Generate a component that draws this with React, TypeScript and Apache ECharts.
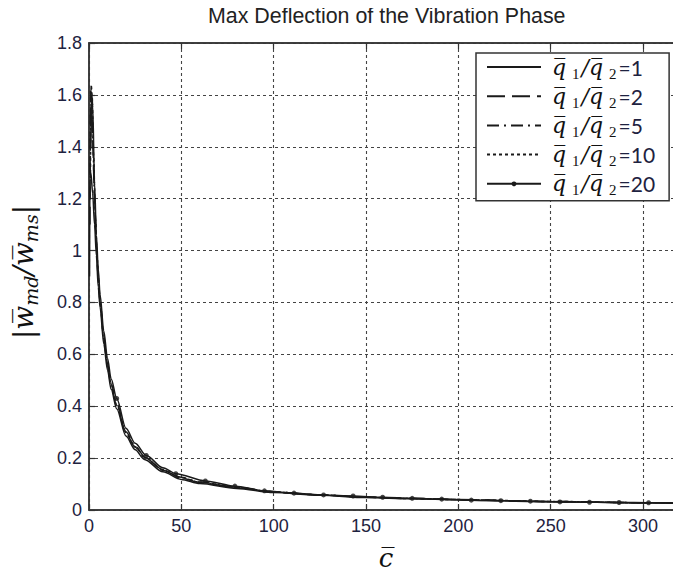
import React, { useEffect, useRef } from 'react';
import * as echarts from 'echarts';

const TITLE = 'Max Deflection of the Vibration Phase';
const RATIOS = ['1', '2', '5', '10', '20'];
const SERIES_NAMES = RATIOS.map((r) => `q1/q2=${r}`);

// q1/q2 = 1 (solid)
const cQ1 = [0.3, 0.5, 1, 2, 3, 4, 5, 6, 8, 10, 12, 15, 20, 25, 30, 40, 50, 60, 80, 100, 125, 150, 175, 200, 250, 300, 320];
const yQ1 = [0.9, 1.28, 1.3, 1.22, 1.1, 0.98, 0.86, 0.78, 0.64, 0.54, 0.465, 0.39, 0.285, 0.232, 0.195, 0.147, 0.118, 0.102, 0.083, 0.067, 0.057, 0.048, 0.043, 0.039, 0.032, 0.027, 0.026];
// q1/q2 = 2 (dashed)
const cQ2 = [0.5, 0.8, 1.2, 2, 3, 4, 5, 6, 8, 10, 12, 15, 20, 25, 30, 40, 50, 60, 80, 100, 125, 150, 175, 200, 250, 300, 320];
const yQ2 = [1.1, 1.55, 1.6, 1.42, 1.2, 1.02, 0.89, 0.8, 0.66, 0.555, 0.478, 0.402, 0.296, 0.242, 0.203, 0.153, 0.123, 0.106, 0.086, 0.069, 0.058, 0.049, 0.044, 0.04, 0.033, 0.028, 0.027];
// q1/q2 = 5 (dash-dot)
const cQ5 = [0.6, 1, 1.5, 2, 3, 4, 5, 6, 8, 10, 12, 15, 20, 25, 30, 40, 50, 60, 80, 100, 125, 150, 175, 200, 250, 300, 320];
const yQ5 = [1.2, 1.63, 1.58, 1.44, 1.21, 1.03, 0.9, 0.81, 0.67, 0.565, 0.487, 0.41, 0.302, 0.247, 0.207, 0.156, 0.126, 0.108, 0.088, 0.07, 0.059, 0.05, 0.045, 0.04, 0.033, 0.028, 0.027];
// q1/q2 = 10 (dotted)
const cQ10 = [0.8, 1.2, 1.7, 2.5, 3.5, 4.5, 5, 6, 8, 10, 12, 15, 20, 25, 30, 40, 50, 60, 80, 100, 125, 150, 175, 200, 250, 300, 320];
const yQ10 = [1.3, 1.64, 1.6, 1.36, 1.12, 0.97, 0.9, 0.8, 0.66, 0.56, 0.482, 0.405, 0.298, 0.244, 0.204, 0.154, 0.124, 0.107, 0.087, 0.069, 0.058, 0.049, 0.044, 0.04, 0.033, 0.028, 0.027];
// q1/q2 = 20 (solid with markers)
const cQ20 = [1, 1.5, 2, 3, 4, 5, 6, 8, 10, 12, 15, 20, 25, 31, 40, 47, 63, 79, 95, 111, 127, 143, 159, 175, 191, 207, 223, 239, 255, 271, 287, 303, 320];
const yQ20 = [1.4, 1.6, 1.56, 1.26, 1.06, 0.93, 0.83, 0.69, 0.585, 0.505, 0.43, 0.315, 0.257, 0.21, 0.163, 0.14, 0.112, 0.092, 0.074, 0.065, 0.058, 0.054, 0.049, 0.045, 0.042, 0.038, 0.036, 0.034, 0.031, 0.03, 0.029, 0.028, 0.027];
const cMarkQ20 = [15, 31, 47, 63, 79, 95, 111, 127, 143, 159, 175, 191, 207, 223, 239, 255, 271, 287, 303];
const yMarkQ20 = [0.43, 0.21, 0.14, 0.112, 0.092, 0.074, 0.065, 0.058, 0.054, 0.049, 0.045, 0.042, 0.038, 0.036, 0.034, 0.031, 0.03, 0.029, 0.028];

const X_MIN = 0;
const X_MAX = 320;
const X_STEP = 50;
const Y_MIN = 0;
const Y_MAX = 1.8;
const Y_STEP = 0.2;

const SERIES_X = [cQ1, cQ2, cQ5, cQ10, cQ20];
const SERIES_Y = [yQ1, yQ2, yQ5, yQ10, yQ20];
const DASHES: any[] = ['solid', [18, 7], [12, 5, 2, 5], [3, 3], 'solid'];

const INK = '#1a1a1a';
const LABEL = '#1e2240';

export default function App() {
  const ref = useRef<HTMLDivElement>(null);
  useEffect(() => {
    if (!ref.current) return;
    const chart = echarts.init(ref.current, undefined, { renderer: 'svg' });
    const axisLineStyle = { color: '#333', width: 1.5 };
    const tick = { show: true, inside: true, length: 6, lineStyle: { color: '#333', width: 1.2 } };
    const split = { show: true, lineStyle: { color: '#444', width: 1.1, type: [3, 3] as any } };
    const tickLabel = { fontSize: 18, fontFamily: 'Liberation Sans', color: LABEL };

    const lineSeries = SERIES_NAMES.map((name, i) => ({
      name,
      type: 'line',
      xAxisIndex: 0,
      yAxisIndex: 0,
      data: SERIES_X[i].map((x, j) => [x, SERIES_Y[i][j]]),
      symbol: 'none',
      smooth: 0.3,
      smoothMonotone: 'x',
      lineStyle: { color: INK, width: 1.5, type: DASHES[i] },
      itemStyle: { color: INK },
      z: 3,
    }));
    const markerSeries = {
      name: SERIES_NAMES[4],
      type: 'scatter',
      xAxisIndex: 0,
      yAxisIndex: 0,
      data: cMarkQ20.map((x, j) => [x, yMarkQ20[j]]),
      symbol: 'circle',
      symbolSize: 5,
      itemStyle: { color: INK },
      z: 4,
    };

    chart.setOption({
      animation: false,
      backgroundColor: '#fff',
      title: {
        text: TITLE,
        left: 208,
        top: 5,
        padding: 0,
        textStyle: { fontFamily: 'Liberation Sans', fontSize: 21.4, fontWeight: 'normal', color: '#222' },
      },
      grid: {
        left: 89,
        right: 1,
        top: 43,
        bottom: 67,
        show: true,
        borderColor: '#333',
        borderWidth: 1.5,
        backgroundColor: '#fff',
        outerBoundsMode: 'none',
      },
      legend: {
        orient: 'vertical',
        left: 476,
        top: 53,
        padding: [3, 14, 3, 10],
        itemWidth: 54,
        itemHeight: 6,
        itemGap: 4.2,
        backgroundColor: '#fff',
        borderColor: '#333',
        borderWidth: 1.5,
        borderRadius: 0,
        data: SERIES_NAMES.map((n, i) => (i < 4 ? { name: n, itemStyle: { opacity: 0 } } : { name: n })),
        formatter: (name: string) => {
          const r = name.split('=')[1];
          return `{q|q\u0305}{s|1}{sl|/}{q|q\u0305}{s|2}{e|=${r}}`;
        },
        textStyle: {
          padding: [0, 0, 0, 6],
          rich: {
            q: { fontFamily: 'DejaVu Serif', fontStyle: 'italic', fontSize: 22, lineHeight: 28, color: '#111' },
            s: { fontFamily: 'Liberation Serif', fontSize: 15, lineHeight: 14, verticalAlign: 'bottom', padding: [0, 2, 0, 6], color: '#111' },
            sl: { fontFamily: 'DejaVu Serif', fontStyle: 'italic', fontSize: 22, lineHeight: 28, color: '#111' },
            e: { fontFamily: 'Lato', fontSize: 21, lineHeight: 28, color: LABEL },
          },
        },
      },
      xAxis: [
        {
          type: 'value', min: X_MIN, max: X_MAX, interval: X_STEP, position: 'bottom',
          axisLine: { show: true, onZero: false, lineStyle: axisLineStyle },
          axisTick: tick,
          axisLabel: { ...tickLabel, margin: 7, showMaxLabel: false },
          splitLine: split,
        },
        {
          type: 'value', min: X_MIN, max: X_MAX, interval: X_STEP, position: 'top',
          axisLine: { show: true, onZero: false, lineStyle: axisLineStyle },
          axisTick: tick,
          axisLabel: { show: false },
          splitLine: { show: false },
        },
      ],
      yAxis: [
        {
          type: 'value', min: Y_MIN, max: Y_MAX, interval: Y_STEP, position: 'left',
          axisLine: { show: true, onZero: false, lineStyle: axisLineStyle },
          axisTick: tick,
          axisLabel: { ...tickLabel, margin: 7 },
          splitLine: split,
        },
        {
          type: 'value', min: Y_MIN, max: Y_MAX, interval: Y_STEP, position: 'right',
          axisLine: { show: true, onZero: false, lineStyle: axisLineStyle },
          axisTick: tick,
          axisLabel: { show: false },
          splitLine: { show: false },
        },
      ],
      graphic: [
        {
          type: 'text',
          x: 23,
          y: 272,
          rotation: Math.PI / 2,
          style: {
            text: '{b||}{w|w\u0305}{s|md}{sl|/}{w|w\u0305}{s|ms}{b||}',
            align: 'center',
            verticalAlign: 'middle',
            rich: {
              b: { fontFamily: 'DejaVu Serif', fontSize: 28, lineHeight: 34, fill: '#111' },
              w: { fontFamily: 'DejaVu Serif', fontStyle: 'italic', fontSize: 28, lineHeight: 34, fill: '#111' },
              s: { fontFamily: 'DejaVu Serif', fontStyle: 'italic', fontSize: 19, lineHeight: 22, verticalAlign: 'bottom', fill: '#111' },
              sl: { fontFamily: 'DejaVu Serif', fontStyle: 'italic', fontSize: 28, lineHeight: 34, fill: '#111' },
            },
          },
        },
        {
          type: 'text',
          x: 386,
          y: 558,
          style: {
            text: 'c\u0305',
            fontFamily: 'DejaVu Serif',
            fontStyle: 'italic',
            fontSize: 26,
            fill: '#111',
            align: 'center',
            verticalAlign: 'middle',
          },
        },
      ],
      series: [...lineSeries, markerSeries],
    });
    return () => chart.dispose();
  }, []);
  return <div ref={ref} style={{ width: 681, height: 577, margin: -8 }} />;
}
